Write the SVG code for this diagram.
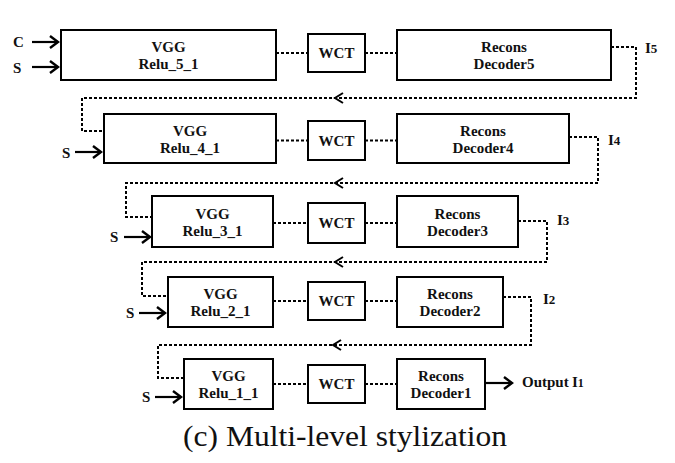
<svg xmlns="http://www.w3.org/2000/svg" width="675" height="463" viewBox="0 0 675 463">
<style>
.box{fill:#fff;stroke:#000;stroke-width:2}
.t{font-family:"Liberation Serif","Times New Roman",serif;font-weight:bold;font-size:15px;fill:#111;text-anchor:middle}
.tl{font-family:"Liberation Serif","Times New Roman",serif;font-weight:bold;font-size:15px;fill:#111}
.dot{fill:none;stroke:#000;stroke-width:2;stroke-dasharray:3 2}
.sol{fill:none;stroke:#000;stroke-width:2.2}
.head{fill:none;stroke:#000;stroke-width:2}
.cap{font-family:"Liberation Serif","Times New Roman",serif;font-size:30px;fill:#111}
</style>
<defs>
<marker id="ah" markerWidth="12" markerHeight="14" refX="10" refY="7" orient="auto" markerUnits="userSpaceOnUse">
<path d="M2,1 L10,7 L2,13" fill="none" stroke="#000" stroke-width="2.4"/>
</marker>
</defs>
<rect width="675" height="463" fill="#fff"/>
<g id="connectors">
<line class="dot" x1="276" y1="53" x2="308" y2="53"/>
<line class="dot" x1="365" y1="53" x2="397" y2="53"/>
<line class="dot" x1="276" y1="140.5" x2="308" y2="140.5"/>
<line class="dot" x1="365" y1="140.5" x2="397" y2="140.5"/>
<line class="dot" x1="273" y1="223" x2="308" y2="223"/>
<line class="dot" x1="365" y1="223" x2="397" y2="223"/>
<line class="dot" x1="273" y1="301" x2="308" y2="301"/>
<line class="dot" x1="365" y1="301" x2="397" y2="301"/>
<line class="dot" x1="273" y1="384" x2="308" y2="384"/>
<line class="dot" x1="365" y1="384" x2="397" y2="384"/>
<path class="dot" d="M611,47 H636 V98 H82 V131 H104"/>
<path class="dot" d="M569,137 H598 V183 H126 V217 H152"/>
<path class="dot" d="M518,221 H547 V262 H142 V296 H168"/>
<path class="dot" d="M503,297 H531 V345 H158 V378 H184"/>
<path class="head" d="M343,93 L335,98 L343,103"/>
<path class="head" d="M343,178 L335,183 L343,188"/>
<path class="head" d="M343,257 L335,262 L343,267"/>
<path class="head" d="M341,340 L333,345 L341,350"/>
<line class="sol" x1="32" y1="42" x2="58" y2="42" marker-end="url(#ah)"/>
<line class="sol" x1="32" y1="67" x2="58" y2="67" marker-end="url(#ah)"/>
<line class="sol" x1="75" y1="152" x2="101" y2="152" marker-end="url(#ah)"/>
<line class="sol" x1="124" y1="237" x2="150" y2="237" marker-end="url(#ah)"/>
<line class="sol" x1="139" y1="313" x2="165" y2="313" marker-end="url(#ah)"/>
<line class="sol" x1="155" y1="397" x2="181" y2="397" marker-end="url(#ah)"/>
<line class="sol" x1="485" y1="383" x2="512" y2="383" marker-end="url(#ah)"/>
</g>
<g id="inputs">
<text class="tl" x="13" y="47">C</text>
<text class="tl" x="13" y="73">S</text>
<text class="tl" x="62" y="158">S</text>
<text class="tl" x="110" y="242">S</text>
<text class="tl" x="126" y="318">S</text>
<text class="tl" x="142" y="402">S</text>
</g>
<g id="vgg5"><rect class="box" x="61" y="30" width="215" height="50"/><text class="t" x="168.5" y="52">VGG</text><text class="t" x="168.5" y="69">Relu_5_1</text></g>
<g id="wct5"><rect class="box" x="308" y="34" width="57" height="38"/><text class="t" x="336.5" y="58">WCT</text></g>
<g id="dec5"><rect class="box" x="397" y="30" width="214" height="50"/><text class="t" x="504" y="52">Recons</text><text class="t" x="504" y="69">Decoder5</text></g>
<g id="vgg4"><rect class="box" x="104" y="114" width="172" height="49"/><text class="t" x="190" y="136">VGG</text><text class="t" x="190" y="153">Relu_4_1</text></g>
<g id="wct4"><rect class="box" x="308" y="121" width="57" height="39"/><text class="t" x="336.5" y="145.5">WCT</text></g>
<g id="dec4"><rect class="box" x="397" y="114" width="172" height="49"/><text class="t" x="483" y="136">Recons</text><text class="t" x="483" y="153">Decoder4</text></g>
<g id="vgg3"><rect class="box" x="152" y="196" width="121" height="51"/><text class="t" x="212.5" y="219">VGG</text><text class="t" x="212.5" y="236">Relu_3_1</text></g>
<g id="wct3"><rect class="box" x="308" y="203" width="57" height="40"/><text class="t" x="336.5" y="228">WCT</text></g>
<g id="dec3"><rect class="box" x="397" y="196" width="121" height="51"/><text class="t" x="457.5" y="219">Recons</text><text class="t" x="457.5" y="236">Decoder3</text></g>
<g id="vgg2"><rect class="box" x="168" y="277" width="105" height="50"/><text class="t" x="220.5" y="299">VGG</text><text class="t" x="220.5" y="316">Relu_2_1</text></g>
<g id="wct2"><rect class="box" x="308" y="282" width="57" height="38"/><text class="t" x="336.5" y="306">WCT</text></g>
<g id="dec2"><rect class="box" x="397" y="277" width="106" height="50"/><text class="t" x="450" y="299">Recons</text><text class="t" x="450" y="316">Decoder2</text></g>
<g id="vgg1"><rect class="box" x="184" y="359" width="89" height="50"/><text class="t" x="228.5" y="381">VGG</text><text class="t" x="228.5" y="398">Relu_1_1</text></g>
<g id="wct1"><rect class="box" x="308" y="365" width="57" height="38"/><text class="t" x="336.5" y="389">WCT</text></g>
<g id="dec1"><rect class="box" x="397" y="359" width="88" height="50"/><text class="t" x="441" y="381">Recons</text><text class="t" x="441" y="398">Decoder1</text></g>
<g id="labels">
<text class="tl" x="645" y="53">I<tspan font-size="13">5</tspan></text>
<text class="tl" x="608" y="145">I<tspan font-size="13">4</tspan></text>
<text class="tl" x="557" y="225">I<tspan font-size="13">3</tspan></text>
<text class="tl" x="543" y="304">I<tspan font-size="13">2</tspan></text>
<text class="tl" x="522" y="387">Output</text>
<text class="tl" x="572" y="387">I<tspan font-size="12">1</tspan></text>
</g>
<text class="cap" x="183" y="446" textLength="324" lengthAdjust="spacingAndGlyphs">(c) Multi-level stylization</text>
</svg>
